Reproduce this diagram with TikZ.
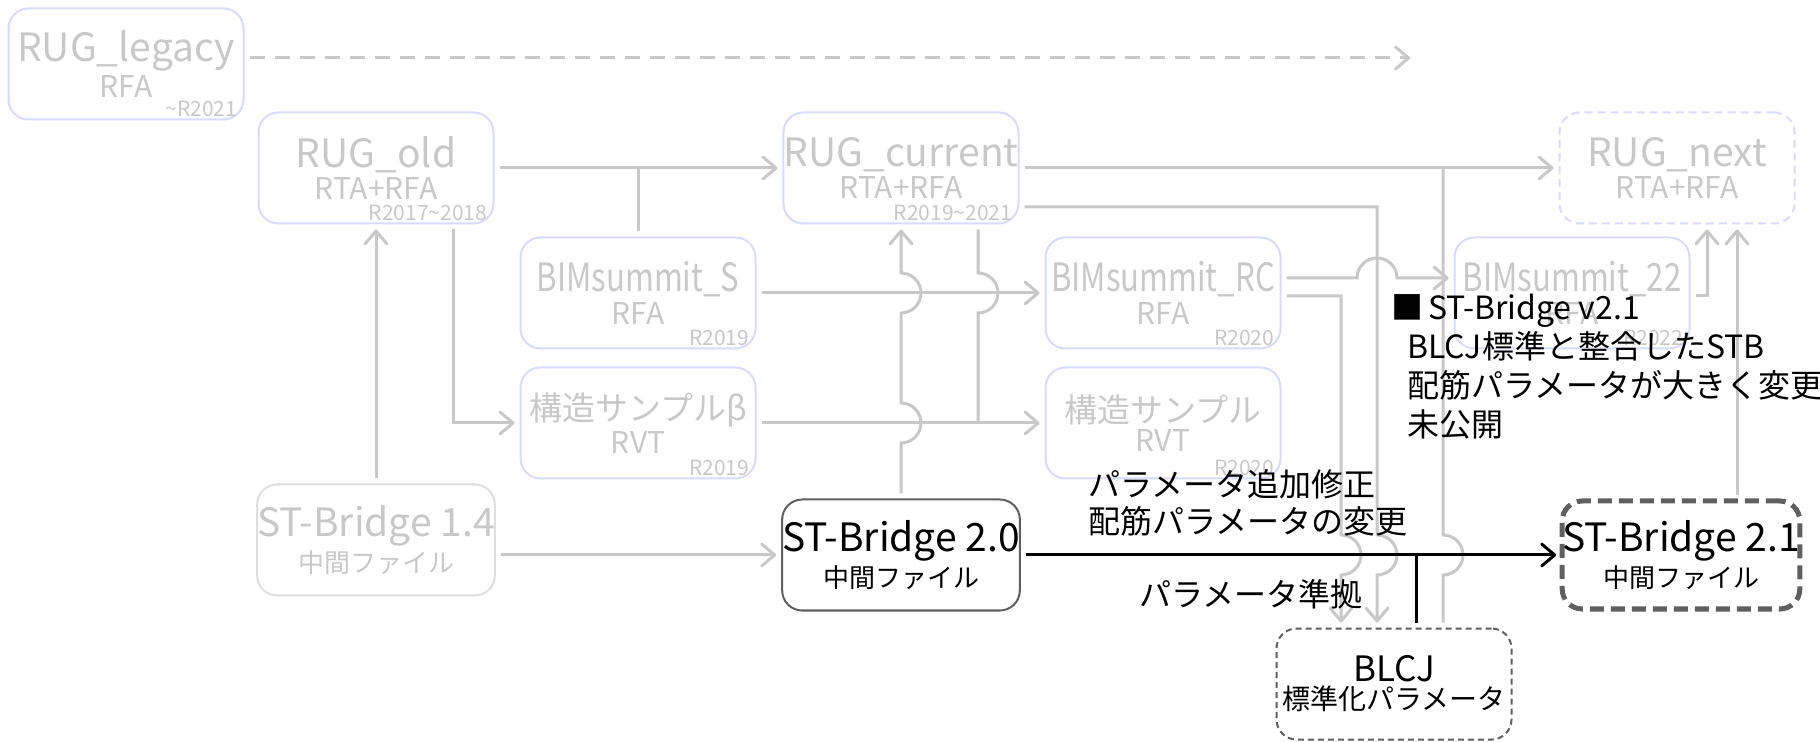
\documentclass[tikz,border=0pt]{standalone}
\usepackage{fontspec}
\setmainfont{Noto Sans CJK JP}
\newfontfamily\narrowfam{Noto Sans CJK JP}[FakeStretch=0.8]
\usetikzlibrary{arrows.meta}
\usepackage{xcolor}
\definecolor{lav}{RGB}{218,218,250}
\definecolor{ghost}{RGB}{200,200,200}
\definecolor{pale}{RGB}{222,222,222}
\definecolor{dark}{RGB}{95,95,95}
\newcommand{\bigf}{\fontsize{19.5}{21}\selectfont}
\newcommand{\narf}{\narrowfam\fontsize{19.5}{21}\selectfont}
\newcommand{\jpf}{\fontsize{16.5}{21}\selectfont}
\newcommand{\subf}{\fontsize{15}{17}\selectfont}
\newcommand{\filef}{\fontsize{13}{15}\selectfont}
\newcommand{\yrf}{\fontsize{10.5}{12}\selectfont}
\newcommand{\lblf}{\fontsize{16}{18.5}\selectfont}

\begin{document}
\begin{tikzpicture}[x=0.5pt,y=-0.5pt]
    \tikzset{box/.style = {draw=lav, line width=1pt, rounded corners=10pt,
        minimum width=117.5pt, minimum height=55.5pt, inner sep=0pt,
        outer sep=3pt, text=ghost, align=center}}
    \tikzset{nextbox/.style = {box, dash pattern=on 4pt off 2.5pt}}
    \tikzset{oldfile/.style = {box, draw=pale}}
    \tikzset{curfile/.style = {box, draw=dark, text=black}}
    \tikzset{newfile/.style = {box, draw=dark, text=black, line width=2.5pt,
        dash pattern=on 7pt off 3.5pt, minimum width=116pt, minimum height=54pt}}
    \tikzset{stdbox/.style = {box, draw=dark, text=black, dash pattern=on 3pt off 2pt}}
    \tikzset{yr/.style = {font=\yrf, text=ghost, inner sep=0pt, anchor=south east}}
    \tikzset{conn/.style = {draw=ghost, line width=1.5pt,
        > = {Straight Barb[round,length=6.5pt,width=11pt]}}}
    \tikzset{flow/.style = {draw=black, line width=1.5pt,
        > = {Straight Barb[round,length=6.5pt,width=11pt]}}}
    \tikzset{lbl/.style = {font=\lblf, inner sep=0pt, align=left}}
    \useasboundingbox (0,0) rectangle (1820,742);
    % boxes
    \node[box] (leg) at (126,64) {{\bigf RUG\_legacy}\\[1.5pt]{\subf RFA}};
    \node[box] (old) at (376,168) {{\bigf RUG\_old}\\[1.5pt]{\subf RTA+RFA}};
    \node[box] (cur) at (901,168) {{\bigf RUG\_current}\\[1.5pt]{\subf RTA+RFA}};
    \node[nextbox] (next) at (1677,168) {{\bigf RUG\_next}\\[1.5pt]{\subf RTA+RFA}};
    \node[box] (bS) at (638,293) {{\narf BIMsummit\_S}\\[1.5pt]{\subf RFA}};
    \node[box] (bRC) at (1163,293) {{\narf BIMsummit\_RC}\\[1.5pt]{\subf RFA}};
    \node[box] (b22) at (1572,293) {{\narf BIMsummit\_22}\\[1.5pt]{\subf RFA}};
    \node[box] (kb) at (638,423) {{\jpf 構造サンプルβ}\\[1.5pt]{\subf RVT}};
    \node[box] (k) at (1163,423) {{\jpf 構造サンプル}\\[1.5pt]{\subf RVT}};
    \node[oldfile] (st14) at (376,540) {{\bigf ST-Bridge 1.4}\\[1pt]{\filef 中間ファイル}};
    \node[curfile] (st20) at (901,555) {{\bigf ST-Bridge 2.0}\\[1pt]{\filef 中間ファイル}};
    \node[newfile] (st21) at (1681,555) {{\bigf ST-Bridge 2.1}\\[1pt]{\filef 中間ファイル}};
    \node[stdbox] (blcj) at (1394,684) {{\fontsize{17.5}{21}\selectfont BLCJ}\\[1pt]{\fontsize{14}{16}\selectfont 標準化パラメータ}};
    % release tags
    \node[yr] (legy) at ([xshift=-6pt,yshift=4pt]leg.south east) {\textasciitilde R2021};
    \node[yr] (oldy) at ([xshift=-6pt,yshift=4pt]old.south east) {R2017\textasciitilde 2018};
    \node[yr] (cury) at ([xshift=-6pt,yshift=4pt]cur.south east) {R2019\textasciitilde 2021};
    \node[yr] (bSy) at ([xshift=-6pt,yshift=4pt]bS.south east) {R2019};
    \node[yr] (bRCy) at ([xshift=-6pt,yshift=4pt]bRC.south east) {R2020};
    \node[yr] (b22y) at ([xshift=-6pt,yshift=4pt]b22.south east) {R2022};
    \node[yr] (kby) at ([xshift=-6pt,yshift=4pt]kb.south east) {R2019};
    \node[yr] (ky) at ([xshift=-6pt,yshift=4pt]k.south east) {R2020};
    \coordinate (legend) at (1410,58);

    % gray connectors
    \draw[conn, ->, dash pattern=on 7.5pt off 5pt] ([yshift=3pt]leg.east) -- (legend);
    \draw[conn, ->] (old.east) -- (cur.west);
    \draw[conn] (bS.north) -- (bS.north |- old.east);
    \draw[conn, ->] (453,0 |- old.south) |- (kb.west);
    \draw[conn, ->] (st14.north) -- (old.south);
    \draw[conn, ->] (st14.east |- st20.west) -- (st20.west);
    \draw[conn, ->] (st20.north) -- (901,443) arc[start angle=-90,end angle=90,radius=10pt]
        -- (901,313) arc[start angle=-90,end angle=90,radius=10pt] -- (cur.south);
    \draw[conn] (978,0 |- cur.south) -- (978,273) arc[start angle=90,end angle=-90,radius=10pt]
        -- (978,0 |- k.west);
    \draw[conn, ->] (bS.east) -- (bRC.west);
    \draw[conn, ->] (kb.east) -- (k.west);
    \draw[conn, ->] (cur.east) -- (next.west);
    \draw[conn] (1443,0 |- blcj.north) -- (1443,575) arc[start angle=-90,end angle=90,radius=10pt]
        -- (1443,0 |- cur.east);
    \draw[conn, ->] ([yshift=-19.5pt]cur.east) -| (1377,535)
        arc[start angle=90,end angle=-90,radius=10pt] -- (1377,0 |- blcj.north);
    \draw[conn, ->] ([yshift=-1.5pt]bRC.east) -| (1341,535)
        arc[start angle=90,end angle=-90,radius=10pt] -- (1341,0 |- blcj.north);
    \draw[conn, ->] ([yshift=7.5pt]bRC.east) -- (1357,278)
        arc[start angle=180,end angle=0,radius=10pt] -- (b22.west |- 1397,278);
    \draw[conn, ->] ([yshift=-1.5pt]b22.east) -| (1707,0 |- next.south);
    \draw[conn, ->] (1737,0 |- st21.north) -- (1737,0 |- next.south);

    % ST-Bridge flow
    \draw[flow, ->] (st20.east) -- (st21.west);
    \draw[flow] (1416,0 |- blcj.north) -- (1416,0 |- st20.east);

    % notes
    \node[lbl, anchor=west] (chg) at (1088,503) {パラメータ追加修正\\配筋パラメータの変更};
    \node[lbl] (conf) at (1251,594) {パラメータ準拠};
    \node[lbl, anchor=north west, font=\fontsize{16}{19.5}\selectfont] (v21) at (1391,294)
        {■\hspace{0.15em}ST-Bridge v2.1\\\hspace*{0.5em}BLCJ標準と整合したSTB\\\hspace*{0.5em}配筋パラメータが大きく変更\\\hspace*{0.5em}未公開};
\end{tikzpicture}
\end{document}
